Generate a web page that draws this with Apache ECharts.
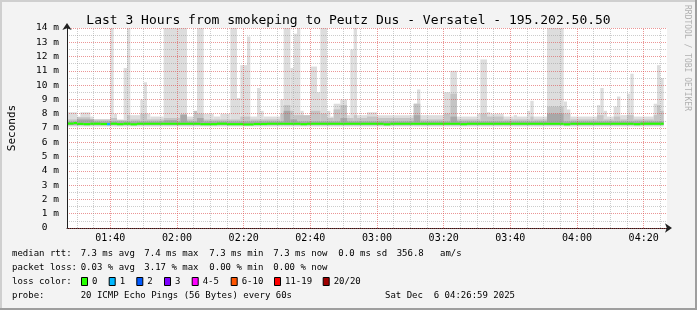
<!DOCTYPE html>
<html><head><meta charset="utf-8">
<script src="https://cdn.jsdelivr.net/npm/echarts@6/dist/echarts.min.js"></script>
<style>html,body{margin:0;padding:0;background:#f3f3f3}#c{width:697px;height:310px}</style>
</head><body><div id="c"></div>
<script>
// ---- data (x in minutes of day; steps as [minute offset from START, value]) ----
const START = 87;          // 01:27
const SPAN = 180;          // 3 hours
const DATA_END = 179;      // last sample ends here (offset)
const majorTimes = [100,120,140,160,180,200,220,240,260];
const minorTimes = [90,95,105,110,115,125,130,135,145,150,155,165,170,175,185,190,195,205,210,215,225,230,235,245,250,255,265];
const yTickLabels = ['0','1 m','2 m','3 m','4 m','5 m','6 m','7 m','8 m','9 m','10 m','11 m','12 m','13 m','14 m'];

// outer smoke (max ping), light gray
const lightTop = [[0,8.1],[3,7.8],[4,8.1],[7,7.8],[8,7.6],[13,15],[14,8.0],[15,7.6],[17,11.2],[18,15],[19,7.9],[22,9.0],[23,10.2],[24,8.0],[25,7.8],[29,15],[36,7.8],[39,15],[41,8.0],[44,7.8],[46,8.0],[49,15],[51,9.1],[52,11.4],[54,13.4],[55,7.8],[57,9.8],[58,8.2],[59,7.8],[64,9.0],[65,15],[67,11.2],[68,13.6],[69,15],[70,8.2],[71,7.8],[73,11.3],[75,9.5],[76,15],[78,8.2],[79,7.8],[80,8.7],[82,9.0],[84,7.9],[85,12.5],[86,15],[87,7.9],[90,8.1],[93,7.9],[104,8.7],[105,9.7],[106,7.9],[113,9.5],[115,11.0],[117,7.8],[123,8.0],[124,11.8],[126,8.1],[127,8.0],[131,7.8],[134,7.9],[135,7.8],[138,8.2],[139,8.9],[140,7.8],[144,15],[149,8.85],[150,8.3],[151,7.8],[159,8.6],[160,9.8],[161,8.2],[162,7.8],[164,8.5],[165,9.2],[166,7.9],[168,9.4],[169,10.8],[170,7.8],[176,8.7],[177,11.4],[178,10.5]];
const lightLow = 7.1;
// middle smoke, medium gray
const midTop = [[0,7.6],[3,7.75],[7,7.6],[13,7.7],[15,7.55],[18,7.9],[19,7.6],[22,8.0],[24,7.6],[29,7.7],[34,7.9],[36,7.6],[38,8.2],[39,8.0],[41,7.6],[52,7.8],[55,7.6],[64,8.0],[65,8.6],[67,8.2],[68,7.9],[73,8.2],[76,8.0],[78,7.7],[80,8.3],[82,8.6],[84,7.7],[86,7.9],[87,7.7],[90,7.8],[93,7.7],[104,8.7],[106,7.6],[113,8.0],[115,9.4],[117,7.6],[124,8.0],[126,7.8],[131,7.6],[139,7.8],[140,7.6],[144,8.5],[149,8.0],[151,7.6],[159,7.9],[161,7.6],[164,7.8],[166,7.6],[168,7.9],[170,7.6],[176,7.9],[177,8.6],[178,8.2]];
const midLow = 7.18;
// inner smoke, dark gray
const darkTop = [[0,7.45],[3,7.6],[8,7.45],[29,7.55],[33,7.45],[34,7.95],[36,7.45],[39,7.7],[41,7.45],[65,8.2],[67,7.6],[69,7.45],[82,7.7],[84,7.45],[104,7.9],[106,7.45],[115,7.8],[117,7.45],[144,8.0],[149,7.45]];
const darkLow = 7.22;
// median rtt: [offset, value, loss class]
const medianSteps = [[0,7.31,0],[2,7.35,0],[3,7.29,0],[5,7.27,0],[7,7.3,0],[10,7.28,0],[12,7.27,1],[13,7.3,0],[15,7.27,0],[17,7.3,0],[19,7.26,0],[21,7.3,0],[40,7.27,0],[45,7.3,0],[48,7.27,0],[53,7.25,0],[56,7.28,0],[60,7.3,0],[70,7.27,0],[72,7.3,0],[95,7.26,0],[97,7.3,0],[118,7.27,0],[120,7.3,0],[149,7.26,0],[151,7.3,0],[170,7.27,0],[172,7.3,0]];

const lossLabels = ['0','1','2','3','4-5','6-10','11-19','20/20'];
const lossColors = ['#26ff00','#00b8ff','#0059ff','#7e00ff','#ff00ff','#ff5500','#ff0000','#a00000'];

const title = 'Last 3 Hours from smokeping to Peutz Dus - Versatel - 195.202.50.50';
const statLines = [
  ['median rtt:', '7.3 ms avg', '7.4 ms max', '7.3 ms min', '7.3 ms now', '0.0 ms sd', '356.8', 'am/s'],
  ['packet loss:', '0.03 % avg', '3.17 % max', '0.00 % min', '0.00 % now']
];
const probeText = '20 ICMP Echo Pings (56 Bytes) every 60s';
const dateText = 'Sat Dec  6 04:26:59 2025';

// ---- build ----
function toRects(steps, low) {
  const out = [];
  for (let i = 0; i < steps.length; i++) {
    const x0 = START + steps[i][0];
    const x1 = START + (i + 1 < steps.length ? steps[i + 1][0] : DATA_END);
    out.push([x0, x1, low, steps[i][1]]);
  }
  return out;
}
const medianRects = medianSteps.map((s, i) => {
  const x0 = START + s[0];
  const x1 = START + (i + 1 < medianSteps.length ? medianSteps[i + 1][0] : DATA_END);
  return {value: [x0, x1, s[1] - 0.075, s[1] + 0.075], itemStyle: {color: lossColors[s[2]]}};
});
function rectRender(color) {
  return function (params, api) {
    const p0 = api.coord([api.value(0), api.value(3)]);
    const p1 = api.coord([api.value(1), api.value(2)]);
    return {type: 'rect', shape: {x: p0[0], y: p0[1], width: p1[0] - p0[0], height: p1[1] - p0[1]},
      style: {fill: color || api.visual('color')}};
  };
}
function fmt(m) { const h = Math.floor(m / 60), mm = m % 60; return (h < 10 ? '0' : '') + h + ':' + (mm < 10 ? '0' : '') + mm; }

const MONO = '"DejaVu Sans Mono", monospace';
const MAJ = 'rgba(222,80,80,0.6)';
const MIN = 'rgba(143,143,143,0.45)';

const graphics = [];
// frame
graphics.push({type:'rect', shape:{x:0,y:0,width:697,height:2}, style:{fill:'#cfcfcf'}, silent:true});
graphics.push({type:'rect', shape:{x:0,y:0,width:2,height:310}, style:{fill:'#cfcfcf'}, silent:true});
graphics.push({type:'rect', shape:{x:0,y:308,width:697,height:2}, style:{fill:'#9e9e9e'}, silent:true});
graphics.push({type:'rect', shape:{x:695,y:0,width:2,height:310}, style:{fill:'#9e9e9e'}, silent:true});
graphics.push({type:'text', x:687, y:5, rotation:-Math.PI/2, style:{text:'RRDTOOL / TOBI OETIKER', font:'8px ' + MONO, fill:'#b0b0b0', align:'left', verticalAlign:'middle'}, silent:true});
const colX = [12, 80.7, 144.3, 209.3, 273.3, 338.3, 396.7, 440];
statLines.forEach((ln, li) => {
  ln.forEach((t, i) => {
    graphics.push({type:'text', x: colX[i], y: 254 + li * 14, style:{text:t, font:'9px ' + MONO, fill:'#000', verticalAlign:'middle'}, silent:true});
  });
});
graphics.push({type:'text', x:12, y:282, style:{text:'loss color:', font:'9px ' + MONO, fill:'#000', verticalAlign:'middle'}, silent:true});
const boxX = [81, 108.7, 136.3, 164, 191.7, 230.7, 274, 322.7];
lossLabels.forEach((l, i) => {
  graphics.push({type:'rect', shape:{x:boxX[i] + 0.5, y:277.5, width:6, height:8}, style:{fill:lossColors[i], stroke:'#000', lineWidth:1}, silent:true});
  graphics.push({type:'text', x:boxX[i] + 11, y:282, style:{text:l, font:'9px ' + MONO, fill:'#000', verticalAlign:'middle'}, silent:true});
});
graphics.push({type:'text', x:12, y:296, style:{text:'probe:', font:'9px ' + MONO, fill:'#000', verticalAlign:'middle'}, silent:true});
graphics.push({type:'text', x:80.7, y:296, style:{text:probeText, font:'9px ' + MONO, fill:'#000', verticalAlign:'middle'}, silent:true});
graphics.push({type:'text', x:385, y:296, style:{text:dateText, font:'9px ' + MONO, fill:'#000', verticalAlign:'middle'}, silent:true});

const chart = echarts.init(document.getElementById('c'), null, {renderer: 'canvas'});
chart.setOption({
  animation: false,
  backgroundColor: '#f3f3f3',
  title: {text: title, left: 'center', top: 9, textStyle: {fontFamily: MONO, fontSize: 13, fontWeight: 'normal', color: '#000'}},
  grid: {left: 67, right: 30, top: 28, bottom: 82, show: true, backgroundColor: '#fff', borderWidth: 0, containLabel: false, outerBoundsMode: 'none'},
  xAxis: {
    type: 'value', min: START, max: START + SPAN,
    axisLine: {show: true, lineStyle: {color: '#202020', width: 1}, symbol: ['none', 'arrow'], symbolSize: [7, 7], symbolOffset: [0, 5]},
    axisTick: {show: false},
    splitLine: {show: false},
    axisLabel: {customValues: majorTimes, formatter: v => fmt(v), fontFamily: MONO, fontSize: 10, color: '#000', margin: 5}
  },
  yAxis: {
    type: 'value', min: 0, max: 14, interval: 1, z: 3,
    name: 'Seconds', nameLocation: 'middle', nameGap: 49, nameRotate: 90,
    nameTextStyle: {fontFamily: MONO, fontSize: 11, color: '#000'},
    axisLine: {show: true, lineStyle: {color: '#202020', width: 1}, symbol: ['none', 'arrow'], symbolSize: [7, 7], symbolOffset: [0, 5]},
    axisTick: {show: false},
    axisLabel: {formatter: v => yTickLabels[v] === '0' ? '0  ' : yTickLabels[v], fontFamily: MONO, fontSize: 9.5, color: '#000', margin: 8},
    splitLine: {show: true, lineStyle: {color: MAJ, type: [1, 1], width: 1}},
    minorTick: {show: false, splitNumber: 2},
    minorSplitLine: {show: true, lineStyle: {color: MIN, type: [1, 1], width: 1}}
  },
  graphic: graphics,
  series: [
    {type: 'custom', name: 'smoke-light', z: 2, clip: true, renderItem: rectRender('#dddddd'), data: toRects(lightTop, lightLow), encode: {x: [0, 1], y: [2, 3]}},
    {type: 'custom', name: 'smoke-mid', z: 2, clip: true, renderItem: rectRender('#c4c4c4'), data: toRects(midTop, midLow), encode: {x: [0, 1], y: [2, 3]}},
    {type: 'custom', name: 'smoke-dark', z: 2, clip: true, renderItem: rectRender('#a8a8a8'), data: toRects(darkTop, darkLow), encode: {x: [0, 1], y: [2, 3]}},
    {type: 'custom', name: 'median', z: 2, clip: true, renderItem: rectRender(null), data: medianRects, encode: {x: [0, 1], y: [2, 3]}},
    {type: 'line', name: 'vgrid', data: [], silent: true,
      markLine: {silent: true, symbol: ['none', 'none'], label: {show: false}, animation: false, z: 4,
        data: minorTimes.map(t => ({xAxis: t, lineStyle: {color: MIN, type: [1, 1], width: 1}}))
          .concat(majorTimes.map(t => ({xAxis: t, lineStyle: {color: MAJ, type: [1, 1], width: 1}})))}}
  ]
});
</script></body></html>
